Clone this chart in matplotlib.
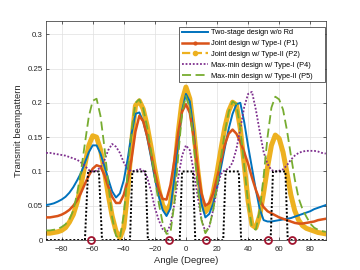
import numpy as np
import matplotlib.pyplot as plt
from matplotlib.lines import Line2D

plt.rcParams['font.family'] = ['Liberation Sans', 'DejaVu Sans']

# angle grid (deg)
angles = np.linspace(-90, 90, 73)

# beampatterns
two_stage = [0.051, 0.052, 0.0535, 0.056, 0.059, 0.063, 0.069, 0.077, 0.087, 0.098,
             0.113, 0.128, 0.138, 0.138, 0.126, 0.108, 0.089, 0.071, 0.062, 0.068,
             0.087, 0.118, 0.155, 0.184, 0.186, 0.173, 0.150, 0.121, 0.090, 0.064,
             0.044, 0.035, 0.046, 0.089, 0.141, 0.189, 0.213, 0.202, 0.158, 0.100,
             0.053, 0.033, 0.038, 0.053, 0.077, 0.105, 0.134, 0.162, 0.184, 0.198,
             0.200, 0.172, 0.137, 0.105, 0.073, 0.045, 0.029, 0.027, 0.027, 0.028,
             0.029, 0.030, 0.031, 0.032, 0.034, 0.036, 0.038, 0.040, 0.042, 0.045,
             0.047, 0.049, 0.051]
joint_t1 = [0.033, 0.033, 0.034, 0.035, 0.037, 0.040, 0.044, 0.050, 0.058, 0.069,
            0.082, 0.094, 0.104, 0.109, 0.107, 0.095, 0.078, 0.063, 0.054, 0.054,
            0.066, 0.087, 0.118, 0.158, 0.181, 0.173, 0.152, 0.126, 0.098, 0.074,
            0.060, 0.059, 0.080, 0.115, 0.156, 0.187, 0.198, 0.185, 0.150, 0.106,
            0.068, 0.050, 0.054, 0.068, 0.090, 0.115, 0.139, 0.155, 0.161, 0.155,
            0.143, 0.128, 0.111, 0.091, 0.073, 0.058, 0.048, 0.042, 0.039, 0.036,
            0.033, 0.031, 0.029, 0.027, 0.025, 0.024, 0.024, 0.025, 0.026, 0.027,
            0.029, 0.030, 0.031]
joint_t2 = [0.010, 0.010, 0.011, 0.012, 0.014, 0.018, 0.026, 0.037, 0.055, 0.080,
            0.110, 0.138, 0.152, 0.150, 0.132, 0.101, 0.066, 0.035, 0.013, 0.003,
            0.018, 0.070, 0.142, 0.196, 0.203, 0.191, 0.167, 0.136, 0.103, 0.074,
            0.051, 0.041, 0.053, 0.097, 0.156, 0.203, 0.223, 0.206, 0.160, 0.104,
            0.058, 0.041, 0.048, 0.069, 0.098, 0.132, 0.164, 0.188, 0.201, 0.197,
            0.162, 0.110, 0.057, 0.022, 0.018, 0.036, 0.069, 0.106, 0.138, 0.153,
            0.148, 0.128, 0.098, 0.066, 0.043, 0.029, 0.021, 0.017, 0.015, 0.013,
            0.011, 0.010, 0.009]
maxmin_t1 = [0.127, 0.127, 0.126, 0.125, 0.124, 0.123, 0.121, 0.119, 0.117, 0.113,
             0.108, 0.102, 0.100, 0.101, 0.106, 0.116, 0.131, 0.140, 0.136, 0.127,
             0.113, 0.104, 0.100, 0.101, 0.104, 0.101, 0.092, 0.072, 0.047, 0.029,
             0.016, 0.011, 0.022, 0.052, 0.090, 0.123, 0.138, 0.131, 0.100, 0.064,
             0.030, 0.012, 0.019, 0.044, 0.075, 0.096, 0.102, 0.104, 0.113, 0.133,
             0.162, 0.194, 0.213, 0.216, 0.190, 0.158, 0.128, 0.111, 0.102, 0.100,
             0.101, 0.103, 0.109, 0.117, 0.123, 0.127, 0.129, 0.130, 0.130, 0.130,
             0.129, 0.127, 0.126]
maxmin_t2 = [0.014, 0.014, 0.015, 0.016, 0.019, 0.023, 0.030, 0.043, 0.068, 0.101,
             0.141, 0.180, 0.203, 0.206, 0.181, 0.136, 0.083, 0.033, 0.006, 0.002,
             0.037, 0.097, 0.159, 0.200, 0.205, 0.192, 0.165, 0.130, 0.090, 0.054,
             0.025, 0.009, 0.010, 0.053, 0.122, 0.185, 0.210, 0.191, 0.141, 0.079,
             0.029, 0.010, 0.019, 0.043, 0.078, 0.119, 0.157, 0.187, 0.202, 0.198,
             0.162, 0.108, 0.054, 0.018, 0.015, 0.044, 0.093, 0.150, 0.193, 0.209,
             0.205, 0.190, 0.160, 0.124, 0.089, 0.061, 0.045, 0.034, 0.024, 0.018,
             0.015, 0.013, 0.012]

# desired beampattern (target sectors)
target_x = [-90, -65, -63, -56, -54, -36, -34.5, -26, -24.5, -4, -2.5, 4.5, 6,
            24, 25.5, 34, 35.5, 54.5, 56, 64, 65.5, 90]
target_y = [0, 0, 0.1, 0.1, 0, 0, 0.1, 0.1, 0, 0, 0.1, 0.1, 0,
            0, 0.1, 0.1, 0, 0, 0.1, 0.1, 0, 0]

# communication user directions
users = [-61, -11, 13, 53, 68]

labels = ['Two-stage design w/o Rd', 'Joint design w/ Type-I (P1)',
          'Joint design w/ Type-II (P2)', 'Max-min design w/ Type-I (P4)',
          'Max-min design w/ Type-II (P5)']

c_blue, c_red, c_yel, c_pur, c_grn = '#0072BD', '#D95319', '#EDB120', '#7E2F8E', '#77AC30'

fig = plt.figure(figsize=(3.6, 2.7), dpi=100)
ax = fig.add_axes([0.128, 0.111, 0.777, 0.813])

ax.plot(angles, joint_t2, color=c_yel, lw=3.6, zorder=2)
ax.plot(angles, two_stage, color=c_blue, lw=1.4, zorder=3)
ax.plot(angles, joint_t1, color=c_red, lw=1.8, zorder=3)
ax.plot(angles, maxmin_t1, color=c_pur, lw=1.3, ls=(0, (1, 1)), zorder=4)
ax.plot(angles, maxmin_t2, color=c_grn, lw=1.3, ls=(0, (5, 2.5)), zorder=4)
ax.plot(target_x, target_y, color='k', lw=1.4, ls=(0, (1, 1)), zorder=5)
ax.plot(users, np.zeros(len(users)), 'o', mfc='none', mec='#A2142F', ms=5,
        mew=1.3, clip_on=False, zorder=6)

ax.set_xlim(-90, 90)
ax.set_ylim(0, 0.32)
ax.set_xticks(np.arange(-80, 81, 20))
ax.set_yticks([0, 0.05, 0.1, 0.15, 0.2, 0.25, 0.3])
ax.set_yticklabels(['0', '0.05', '0.1', '0.15', '0.2', '0.25', '0.3'])
ax.tick_params(direction='in', length=2.5, width=0.5, top=True, right=True,
               labelsize=5.7, colors='0.15')
ax.tick_params(axis='x', pad=4)
ax.tick_params(axis='y', pad=2.5)
ax.grid(True, color='0.88', lw=0.5)
ax.set_axisbelow(True)
for s in ax.spines.values():
    s.set_linewidth(0.5)
    s.set_color('0.15')
ax.set_xlabel('Angle (Degree)', fontsize=6.8, color='0.15', labelpad=2.5)
ax.set_ylabel('Transmit beampattern', fontsize=6.8, color='0.15', labelpad=3)

handles = [Line2D([], [], color=c_blue, lw=1.4),
           Line2D([], [], color=c_red, lw=1.8, marker='.', ms=4),
           Line2D([], [], color=c_yel, lw=1.6, ls='--', marker='.', ms=6),
           Line2D([], [], color=c_pur, lw=1.3, ls=(0, (1, 1))),
           Line2D([], [], color=c_grn, lw=1.3, ls=(0, (5, 2.5)))]
leg = ax.legend(handles, labels, loc='upper left',
                bbox_to_anchor=(0.4755, 0.721, 0.521, 0.251), mode='expand',
                borderaxespad=0, fontsize=5.3, handlelength=3.6, handletextpad=0.35,
                labelspacing=0.5, borderpad=0.35, fancybox=False,
                edgecolor='0.15', framealpha=1)
leg.get_frame().set_linewidth(0.5)

fig.savefig('out.png', dpi=100)
